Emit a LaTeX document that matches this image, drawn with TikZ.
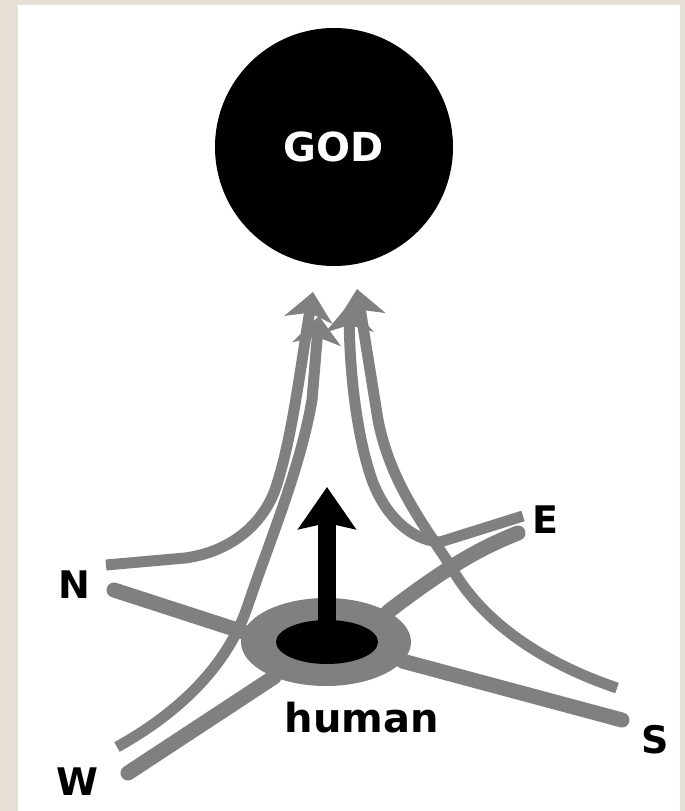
\documentclass[tikz,border=0pt]{standalone}
\usepackage{fontspec}
\setmainfont{DejaVu Sans}
\usetikzlibrary{arrows.meta,positioning,shapes.geometric}
\definecolor{paper}{RGB}{229,223,213}
\definecolor{trail}{RGB}{128,128,128}

\begin{document}
\begin{tikzpicture}[
    x=1pt, y=-1pt,
    lbl/.style={font=\fontsize{38}{38}\selectfont\bfseries, inner sep=0pt},
    road/.style={draw=trail, line width=11pt, line cap=round},
    wide/.style={road, line width=15pt},
    up/.style={road, line cap=butt, -{Stealth[length=28pt, width=48pt, inset=7pt]}},
    lift/.style={-{Stealth[length=42pt, width=57pt, inset=6pt]}, line width=18pt}
]
\useasboundingbox (0,0) rectangle (685,811);
\fill[paper] (0,0) rectangle (685,811);
\fill[white] (18,5) rectangle (680,811);

\node[circle, fill=black, minimum size=238pt, text=white, font=\fontsize{40}{40}\selectfont\bfseries] (god) at (334,147) {GOD};
\node[ellipse, fill=trail, minimum width=170pt, minimum height=88pt, inner sep=0pt] (halo) at (326,642) {};

\node[lbl] (north) at (74,585) {N};
\node[lbl] (east) at (545,520) {E};
\node[lbl] (south) at (655,740) {S};
\node[lbl] (west) at (77,782) {W};
\node[lbl, font=\fontsize{40}{40}\selectfont\bfseries] (human) at (362,718) {human};

\coordinate (ns) at (114,590);
\coordinate (nc) at (106,565);
\coordinate (es) at (518,533);
\coordinate (ec) at (523,516);
\coordinate (ss) at (622,720);
\coordinate (sc) at (617,688);
\coordinate (ws) at (128,773);
\coordinate (wc) at (117,747);
\coordinate (ngod) at (313,292);
\coordinate (wgod) at (319,316);
\coordinate (egod) at (349,304);
\coordinate (sgod) at (357,289);
\coordinate (top) at (327,487);

\draw[wide] (ns) -- (halo.173);
\draw[wide] (ws) -- (halo.214);
\draw[wide] (ss) -- (halo.346);
\draw[wide] (es) .. controls (480,548) and (445,568) .. (halo.26);

\draw[up] (nc) -- (185,558) .. controls (230,552) and (262,525) .. (275,490) .. controls (292,440) and (300,370) .. (ngod);
\draw[up] (wc) .. controls (180,712) and (228,665) .. (248,605) .. controls (268,545) and (300,470) .. (312,400) -- (wgod);
\draw[up] (ec) -- (440,542) .. controls (410,540) and (385,515) .. (372,480) .. controls (358,440) and (350,380) .. (egod);
\draw[up] (sc) .. controls (540,662) and (480,620) .. (450,565) .. controls (420,520) and (390,480) .. (378,420) -- (sgod);

\node[ellipse, fill=black, minimum width=102pt, minimum height=44pt, inner sep=0pt] (soul) at (327,642) {};
\draw[lift] (soul.center) -- (top);
\end{tikzpicture}
\end{document}
